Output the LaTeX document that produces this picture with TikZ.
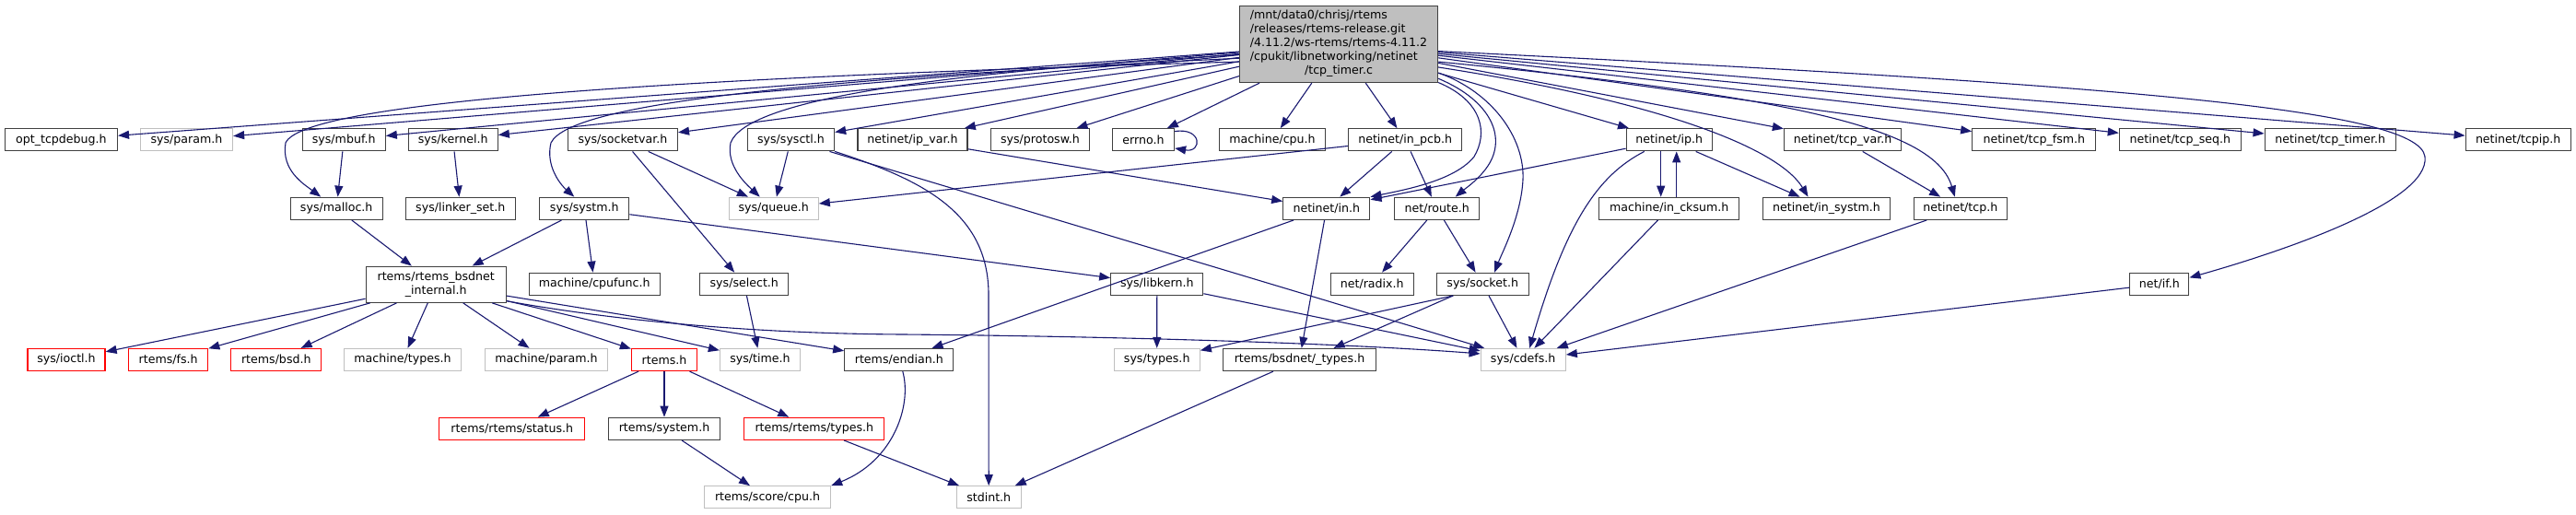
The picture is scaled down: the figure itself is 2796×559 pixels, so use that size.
\documentclass[tikz,border=0pt]{standalone}
\usepackage{fontspec}
\setmainfont{DejaVu Sans}
\usetikzlibrary{arrows.meta}
\definecolor{edgeblue}{HTML}{191970}
\definecolor{bdr}{HTML}{404040}
\definecolor{lgray}{HTML}{BFBFBF}
\begin{document}
\begin{tikzpicture}[x=1pt,y=-1pt,
  font=\fontsize{12.6}{15}\selectfont,
  nd/.style={draw=bdr, fill=white, line width=1.3pt, rectangle, inner sep=0pt, minimum height=24pt, text=black},
  ndgray/.style={nd, draw=lgray},
  ndred/.style={nd, draw=red},
  ndmain/.style={nd, fill=lgray, minimum width=215pt, minimum height=83pt},
  dep/.style={draw=edgeblue, line width=1.1pt, -{Triangle[length=12pt,width=9pt]}}]
\useasboundingbox (0,0) rectangle (2796,559);

% ---------- nodes ----------
\node[ndmain] (main) at (1453,48) {\begin{tabular}{@{}l@{}}/mnt/data0/chrisj/rtems\\/releases/rtems-release.git\\/4.11.2/ws-rtems/rtems-4.11.2\\/cpukit/libnetworking/netinet\\\multicolumn{1}{@{}c@{}}{/tcp\_timer.c}\end{tabular}};

% row 1
\node[nd, minimum width=122pt] (opt) at (66.4,151.8) {opt\_tcpdebug.h};
\node[ndgray, minimum width=100pt] (sparam) at (202.5,151.8) {sys/param.h};
\node[nd, minimum width=90pt] (mbuf) at (373.2,151.8) {sys/mbuf.h};
\node[nd, minimum width=97pt] (kernel) at (491.7,151.8) {sys/kernel.h};
\node[nd, minimum width=119pt] (socketvar) at (675.9,151.8) {sys/socketvar.h};
\node[nd, minimum width=94pt] (sysctl) at (858.5,151.8) {sys/sysctl.h};
\node[nd, minimum width=119pt] (ipvar) at (990.5,151.8) {netinet/ip\_var.h};
\node[nd, minimum width=107pt] (protosw) at (1129,151.8) {sys/protosw.h};
\node[nd, minimum width=67pt] (errno) at (1241,151.8) {errno.h};
\node[nd, minimum width=115pt] (mcpu) at (1381,151.8) {machine/cpu.h};
\node[nd, minimum width=123pt] (inpcb) at (1525.2,151.8) {netinet/in\_pcb.h};
\node[nd, minimum width=93pt] (ip) at (1811.7,151.8) {netinet/ip.h};
\node[nd, minimum width=127pt] (tcpvar) at (2000,151.8) {netinet/tcp\_var.h};
\node[nd, minimum width=134pt] (tcpfsm) at (2207.8,151.8) {netinet/tcp\_fsm.h};
\node[nd, minimum width=132pt] (tcpseq) at (2366.4,151.8) {netinet/tcp\_seq.h};
\node[nd, minimum width=142pt] (tcptimer) at (2529.2,151.8) {netinet/tcp\_timer.h};
\node[nd, minimum width=114pt] (tcpip) at (2733.2,151.8) {netinet/tcpip.h};

% row 2
\node[nd, minimum width=100pt] (malloc) at (365.2,226.3) {sys/malloc.h};
\node[nd, minimum width=119pt] (linker) at (499.8,226.3) {sys/linker\_set.h};
\node[nd, minimum width=97pt] (systm) at (634.3,226.3) {sys/systm.h};
\node[ndgray, minimum width=97pt] (queue) at (839.7,226.3) {sys/queue.h};
\node[nd, minimum width=94pt] (inh) at (1439.8,226.3) {netinet/in.h};
\node[nd, minimum width=92pt] (route) at (1559.7,226.3) {net/route.h};
\node[nd, minimum width=152pt] (cksum) at (1811.7,226.3) {machine/in\_cksum.h};
\node[nd, minimum width=138pt] (insystm) at (1982.5,226.3) {netinet/in\_systm.h};
\node[nd, minimum width=101pt] (tcp) at (2127.8,226.3) {netinet/tcp.h};

% row 3
\node[nd, minimum width=152pt, minimum height=39pt, align=center] (internal) at (473.2,308.7) {rtems/rtems\_bsdnet\\\_internal.h};
\node[nd, minimum width=142pt] (cpufunc) at (645.2,308.3) {machine/cpufunc.h};
\node[nd, minimum width=96pt] (select) at (807.8,308.3) {sys/select.h};
\node[nd, minimum width=100pt] (libkern) at (1255.8,308.3) {sys/libkern.h};
\node[nd, minimum width=90pt] (radix) at (1489.2,308.3) {net/radix.h};
\node[nd, minimum width=100pt] (socket) at (1609.2,308.3) {sys/socket.h};
\node[nd, minimum width=64pt] (netif) at (2343.8,308.3) {net/if.h};

% row 4
\node[ndred, minimum width=84pt] (ioctl) at (72,390.5) {sys/ioctl.h};
\node[ndred, minimum width=86pt] (fs) at (182.7,390.5) {rtems/fs.h};
\node[ndred, minimum width=98pt] (bsd) at (299.8,390.5) {rtems/bsd.h};
\node[ndgray, minimum width=127pt] (mtypes) at (437,390.5) {machine/types.h};
\node[ndgray, minimum width=133pt] (mparam) at (593,390.5) {machine/param.h};
\node[ndred, minimum width=71pt] (rtemsh) at (721,390.5) {rtems.h};
\node[ndgray, minimum width=87pt] (time) at (825,390.5) {sys/time.h};
\node[nd, minimum width=118pt] (endian) at (975.8,390.5) {rtems/endian.h};
\node[ndgray, minimum width=93pt] (stypes) at (1255.7,390.5) {sys/types.h};
\node[nd, minimum width=166pt] (bsdt) at (1410.5,390.5) {rtems/bsdnet/\_types.h};
\node[ndgray, minimum width=92pt] (cdefs) at (1653.2,390.5) {sys/cdefs.h};

% row 5
\node[ndred, minimum width=158pt] (status) at (555.8,465.3) {rtems/rtems/status.h};
\node[nd, minimum width=121pt] (system) at (721,465.3) {rtems/system.h};
\node[ndred, minimum width=152pt] (rtypes) at (883.8,465.3) {rtems/rtems/types.h};

% row 6
\node[ndgray, minimum width=137pt] (scpu) at (833,539.8) {rtems/score/cpu.h};
\node[ndgray, minimum width=70pt] (stdint) at (1073.2,539.8) {stdint.h};

% ---------- edges from main ----------
\draw[dep] (main) -- (opt);
\draw[dep] (main) -- (sparam);
\draw[dep] (main.190) .. controls (700,85) and (330,112) .. (310,155) .. controls (305,185) and (330,200) .. ([xshift=-17pt]malloc.north);
\draw[dep] (main) -- (mbuf);
\draw[dep] (main) -- (kernel);
\draw[dep] (main.188) .. controls (900,85) and (620,110) .. (598,155) .. controls (592,180) and (608,200) .. ([xshift=-11pt]systm.north);
\draw[dep] (main) -- (socketvar);
\draw[dep] (main.186) .. controls (1000,80) and (810,110) .. (793,155) .. controls (788,180) and (810,200) .. ([xshift=-15pt]queue.north);
\draw[dep] (main) -- (sysctl);
\draw[dep] (main) -- (ipvar);
\draw[dep] (main) -- (protosw);
\draw[dep] (main) -- (errno);
\draw[dep] (main) -- (mcpu);
\draw[dep] (main) -- (inpcb);
\draw[dep] (main.-21) .. controls (1610,110) and (1615,145) .. (1600,170) .. controls (1580,195) and (1530,205) .. (inh.north east);
\draw[dep] (main.-19) .. controls (1620,110) and (1635,150) .. (1615,180) .. controls (1605,195) and (1590,205) .. ([xshift=20pt]route.north);
\draw[dep] (main.-16) .. controls (1620,100) and (1655,150) .. (1653,195) .. controls (1651,235) and (1630,275) .. ([xshift=13pt]socket.north);
\draw[dep] (main) -- (ip);
\draw[dep] (main.-13) .. controls (1800,110) and (1930,160) .. ([xshift=-20pt]insystm.north);
\draw[dep] (main) -- (tcpvar);
\draw[dep] (main.-10) .. controls (1950,105) and (2100,140) .. ([xshift=-6pt]tcp.north);
\draw[dep] (main) -- (tcpfsm);
\draw[dep] (main) -- (tcpseq);
\draw[dep] (main) -- (tcptimer);
\draw[dep] (main) -- (tcpip);
\draw[dep] (main.-4) .. controls (2300,92) and (2625,118) .. (2632,170) .. controls (2638,220) and (2470,275) .. (netif.12);

% self loop
\draw[dep] (errno.15) .. controls (1305,138) and (1305,166) .. (errno.-15);

% ---------- other edges ----------
\draw[dep] (mbuf) -- (malloc);
\draw[dep] (kernel) -- (linker);
\draw[dep] (malloc) -- (internal);
\draw[dep] (socketvar) -- (queue);
\draw[dep] (socketvar) -- (select);
\draw[dep] (sysctl) -- (queue);
\draw[dep] (sysctl.south east) .. controls (1000,195) and (1073,230) .. (1073,320) -- (stdint.north);
\draw[dep] (sysctl) -- (cdefs);
\draw[dep] (ipvar) -- (inh);
\draw[dep] (inpcb) -- (queue);
\draw[dep] (inpcb) -- (inh);
\draw[dep] (inpcb) -- (route);
\draw[dep] (systm) -- (internal);
\draw[dep] (systm) -- (cpufunc);
\draw[dep] (systm) -- (libkern);
\draw[dep] (select) -- (time);
\draw[dep] (inh) -- (endian);
\draw[dep] (inh) -- (bsdt);
\draw[dep] (route) -- (radix);
\draw[dep] (route) -- (socket);
\draw[dep] (ip) -- (inh);
\draw[dep] ([xshift=-9pt]ip.south) -- ([xshift=-9pt]cksum.north);
\draw[dep] ([xshift=8pt]cksum.north) -- ([xshift=8pt]ip.south);
\draw[dep] (ip) -- (insystm);
\draw[dep] ([xshift=-27pt]ip.south) .. controls (1735,190) and (1700,240) .. ([xshift=7pt]cdefs.north);
\draw[dep] (cksum) -- (cdefs);
\draw[dep] (tcpvar) -- (tcp);
\draw[dep] (tcp) -- (cdefs);
\draw[dep] (netif) -- (cdefs);
\draw[dep] (socket) -- (cdefs);
\draw[dep] ([xshift=-32pt]socket.south) -- (stypes);
\draw[dep] ([xshift=-32pt]socket.south) -- ([xshift=37pt]bsdt.north);
\draw[dep] (libkern) -- (stypes);
\draw[dep] (libkern) -- (cdefs);
\draw[dep] (internal) -- (ioctl);
\draw[dep] (internal) -- (fs);
\draw[dep] (internal) -- (bsd);
\draw[dep] (internal) -- (mtypes);
\draw[dep] (internal) -- (mparam);
\draw[dep] (internal) -- (rtemsh);
\draw[dep] (internal) -- (time);
\draw[dep] (internal) -- (endian);
\draw[dep] ([yshift=-18pt]internal.east) .. controls (650,345) and (800,362) .. (980,363) .. controls (1200,365) and (1450,372) .. (cdefs.172);
\draw[dep] (rtemsh) -- (status);
\draw[dep] (rtemsh) -- (system);
\draw[dep] (rtemsh) -- (rtypes);
\draw[dep] (system) -- (scpu);
\draw[dep] (rtypes) -- (stdint);
\draw[dep] ([xshift=4pt]endian.south) .. controls (990,440) and (970,500) .. (scpu.north east);
\draw[dep] (bsdt) -- (stdint);
\end{tikzpicture}
\end{document}
